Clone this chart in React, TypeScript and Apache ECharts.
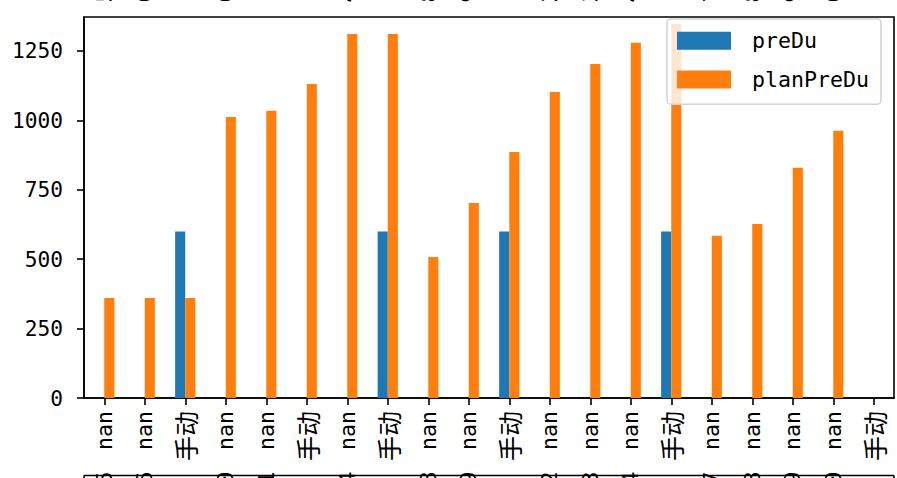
import React, { useEffect, useRef } from "react";
import * as echarts from "echarts";

const categories = ["nan", "nan", "手动", "nan", "nan", "手动", "nan", "手动", "nan", "nan", "手动", "nan", "nan", "nan", "手动", "nan", "nan", "nan", "nan", "手动"];
const preDu = [null, null, 600, null, null, null, null, 600, null, null, 600, null, null, null, 600, null, null, null, null, null];
const planPreDu = [360, 360, 360, 1012, 1034, 1131, 1311, 1311, 508, 702, 886, 1102, 1203, 1279, 1347, 584, 627, 829, 962, null];
const yMax = 1372;
const yInterval = 250;
// fragments of the neighbouring subplots' tick labels, cut by the figure edge
const clippedDigits = ["5", "6", "", "0", "1", "", "4", "", "8", "9", "", "2", "3", "4", "", "7", "8", "9", "0", ""];

const LATIN = "'DejaVu Sans Mono', 'Noto Sans CJK SC', monospace";
const CJK = "'Noto Sans CJK SC', sans-serif";

export default function App() {
  const ref = useRef<HTMLDivElement>(null);
  useEffect(() => {
    if (!ref.current) return;
    const chart = echarts.init(ref.current, undefined, { renderer: "svg" });
    const option: any = {
      animation: false,
      backgroundColor: "#ffffff",
      grid: {
        left: 84,
        top: 17,
        right: 3,
        bottom: 80,
        show: true,
        borderColor: "#000000",
        borderWidth: 1.6,
        backgroundColor: "transparent",
      },
      legend: {
        left: 667,
        top: 19,
        orient: "vertical",
        icon: "rect",
        itemWidth: 54,
        itemHeight: 18,
        itemGap: 17,
        padding: [11, 12, 14, 10],
        backgroundColor: "rgba(255,255,255,0.8)",
        borderColor: "#d4d4d4",
        borderWidth: 1.6,
        borderRadius: 4,
        textStyle: {
          fontFamily: LATIN,
          fontSize: 21.6,
          color: "#000000",
          padding: [0, 0, 0, 16],
        },
        data: ["preDu", "planPreDu"],
      },
      xAxis: {
        type: "category",
        data: categories,
        axisLine: { show: true, lineStyle: { color: "#000000", width: 1.6 } },
        axisTick: { show: true, alignWithLabel: true, length: 7, lineStyle: { color: "#000000", width: 1.6 } },
        axisLabel: {
          rotate: 90,
          margin: 13,
          interval: 0,
          color: "#000000",
          formatter: (v: string) => (/[\u4e00-\u9fff]/.test(v) ? `{c|${v}}` : `{l|${v}}`),
          rich: {
            l: { fontFamily: LATIN, fontSize: 21.6, color: "#000000" },
            c: { fontFamily: CJK, fontSize: 25, color: "#000000" },
          },
        },
        splitLine: { show: false },
      },
      yAxis: {
        type: "value",
        min: 0,
        max: yMax,
        interval: yInterval,
        axisLine: { show: true, lineStyle: { color: "#000000", width: 1.6 } },
        axisTick: { show: true, length: 7, lineStyle: { color: "#000000", width: 1.6 } },
        axisLabel: {
          margin: 21,
          fontFamily: LATIN,
          fontSize: 21.2,
          color: "#000000",
          showMaxLabel: false,
          formatter: (v: number) => String(v),
        },
        splitLine: { show: false },
      },
      series: [
        {
          name: "preDu",
          type: "bar",
          data: preDu,
          barWidth: "25%",
          barGap: "0%",
          itemStyle: { color: "#1f77b4" },
        },
        {
          name: "planPreDu",
          type: "bar",
          data: planPreDu,
          barWidth: "25%",
          barGap: "0%",
          itemStyle: { color: "#ff7f0e" },
        },
      ],
    };
    chart.setOption(option);

    const graphics: any[] = [];
    const left = chart.convertToPixel({ xAxisIndex: 0 }, 0) as number;
    const step = (chart.convertToPixel({ xAxisIndex: 0 }, 1) as number) - left;
    const x0 = left - step / 2;
    const x1 = left + step * (categories.length - 0.5);
    clippedDigits.forEach((d, i) => {
      if (!d) return;
      const x = chart.convertToPixel({ xAxisIndex: 0 }, i) as number;
      graphics.push({
        type: "text",
        x: x,
        y: -4,
        rotation: Math.PI / 2,
        z: 10,
        style: { text: d, font: `21.6px ${LATIN}`, fill: "#000000", textAlign: "center", textVerticalAlign: "middle" },
      });
      graphics.push({
        type: "text",
        x: x,
        y: 478,
        rotation: Math.PI / 2,
        z: 10,
        style: { text: d, font: `21.6px ${LATIN}`, fill: "#000000", textAlign: "center", textVerticalAlign: "middle" },
      });
    });
    graphics.push({
      type: "line",
      z: 11,
      shape: { x1: x0, y1: 475.5, x2: x1, y2: 475.5 },
      style: { stroke: "#000000", lineWidth: 1.6 },
    });
    graphics.push({
      type: "line",
      z: 11,
      shape: { x1: x0, y1: 475.5, x2: x0, y2: 478 },
      style: { stroke: "#000000", lineWidth: 1.6 },
    });
    graphics.push({
      type: "line",
      z: 11,
      shape: { x1: x1, y1: 475.5, x2: x1, y2: 478 },
      style: { stroke: "#000000", lineWidth: 1.6 },
    });
    chart.setOption({ graphic: graphics });

    return () => chart.dispose();
  }, []);
  return (
    <div
      ref={ref}
      style={{ position: "fixed", left: 0, top: 0, width: 897, height: 478 }}
    />
  );
}
